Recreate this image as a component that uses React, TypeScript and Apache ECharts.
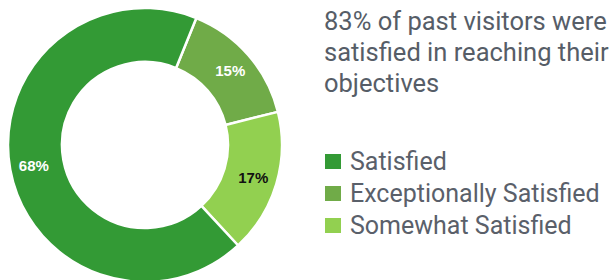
import React, { useEffect, useRef } from "react";
import * as echarts from "echarts";

const categories = ["Exceptionally Satisfied", "Somewhat Satisfied", "Satisfied"];
const values = [15, 17, 68];
const sliceColors = ["#70ab48", "#92d050", "#339a35"];
const labelColors = ["#ffffff", "#111111", "#ffffff"];
const legendOrder = ["Satisfied", "Exceptionally Satisfied", "Somewhat Satisfied"];
const titleLines = ["83% of past visitors were", "satisfied in reaching their", "objectives"];

export default function App() {
  const ref = useRef<HTMLDivElement>(null);
  useEffect(() => {
    if (!ref.current) return;
    const chart = echarts.init(ref.current, undefined, { renderer: "svg" });
    chart.setOption({
      animation: false,
      title: {
        text: titleLines.join("\n"),
        left: 324,
        top: 5,
        padding: 0,
        textStyle: {
          fontFamily: "Roboto",
          fontSize: 25.5,
          fontWeight: "normal",
          color: "#565d67",
          lineHeight: 31,
        },
      },
      legend: {
        orient: "vertical",
        left: 323,
        top: 149,
        padding: 0,
        itemWidth: 18,
        itemHeight: 17,
        itemGap: 7,
        icon: "rect",
        data: legendOrder,
        textStyle: {
          fontFamily: "Roboto",
          fontSize: 25,
          color: "#5a606a",
          lineHeight: 25,
          padding: [0, 0, 0, 3],
        },
      },
      series: [
        {
          type: "pie",
          center: [145, 145],
          radius: [83, 137],
          startAngle: 68,
          clockwise: true,
          avoidLabelOverlap: false,
          itemStyle: { borderColor: "#ffffff", borderWidth: 2.5 },
          label: {
            show: true,
            position: "inside",
            formatter: "{c}%",
            fontFamily: "Liberation Sans",
            fontWeight: "bold",
            fontSize: 15,
          },
          labelLine: { show: false },
          emphasis: { disabled: true },
          data: categories.map((name, i) => ({
            name,
            value: values[i],
            itemStyle: { color: sliceColors[i] },
            label: { color: labelColors[i] },
          })),
        },
      ],
    });
    return () => chart.dispose();
  }, []);
  return (
    <div
      ref={ref}
      style={{ position: "absolute", left: 0, top: 0, width: 616, height: 280 }}
    />
  );
}
